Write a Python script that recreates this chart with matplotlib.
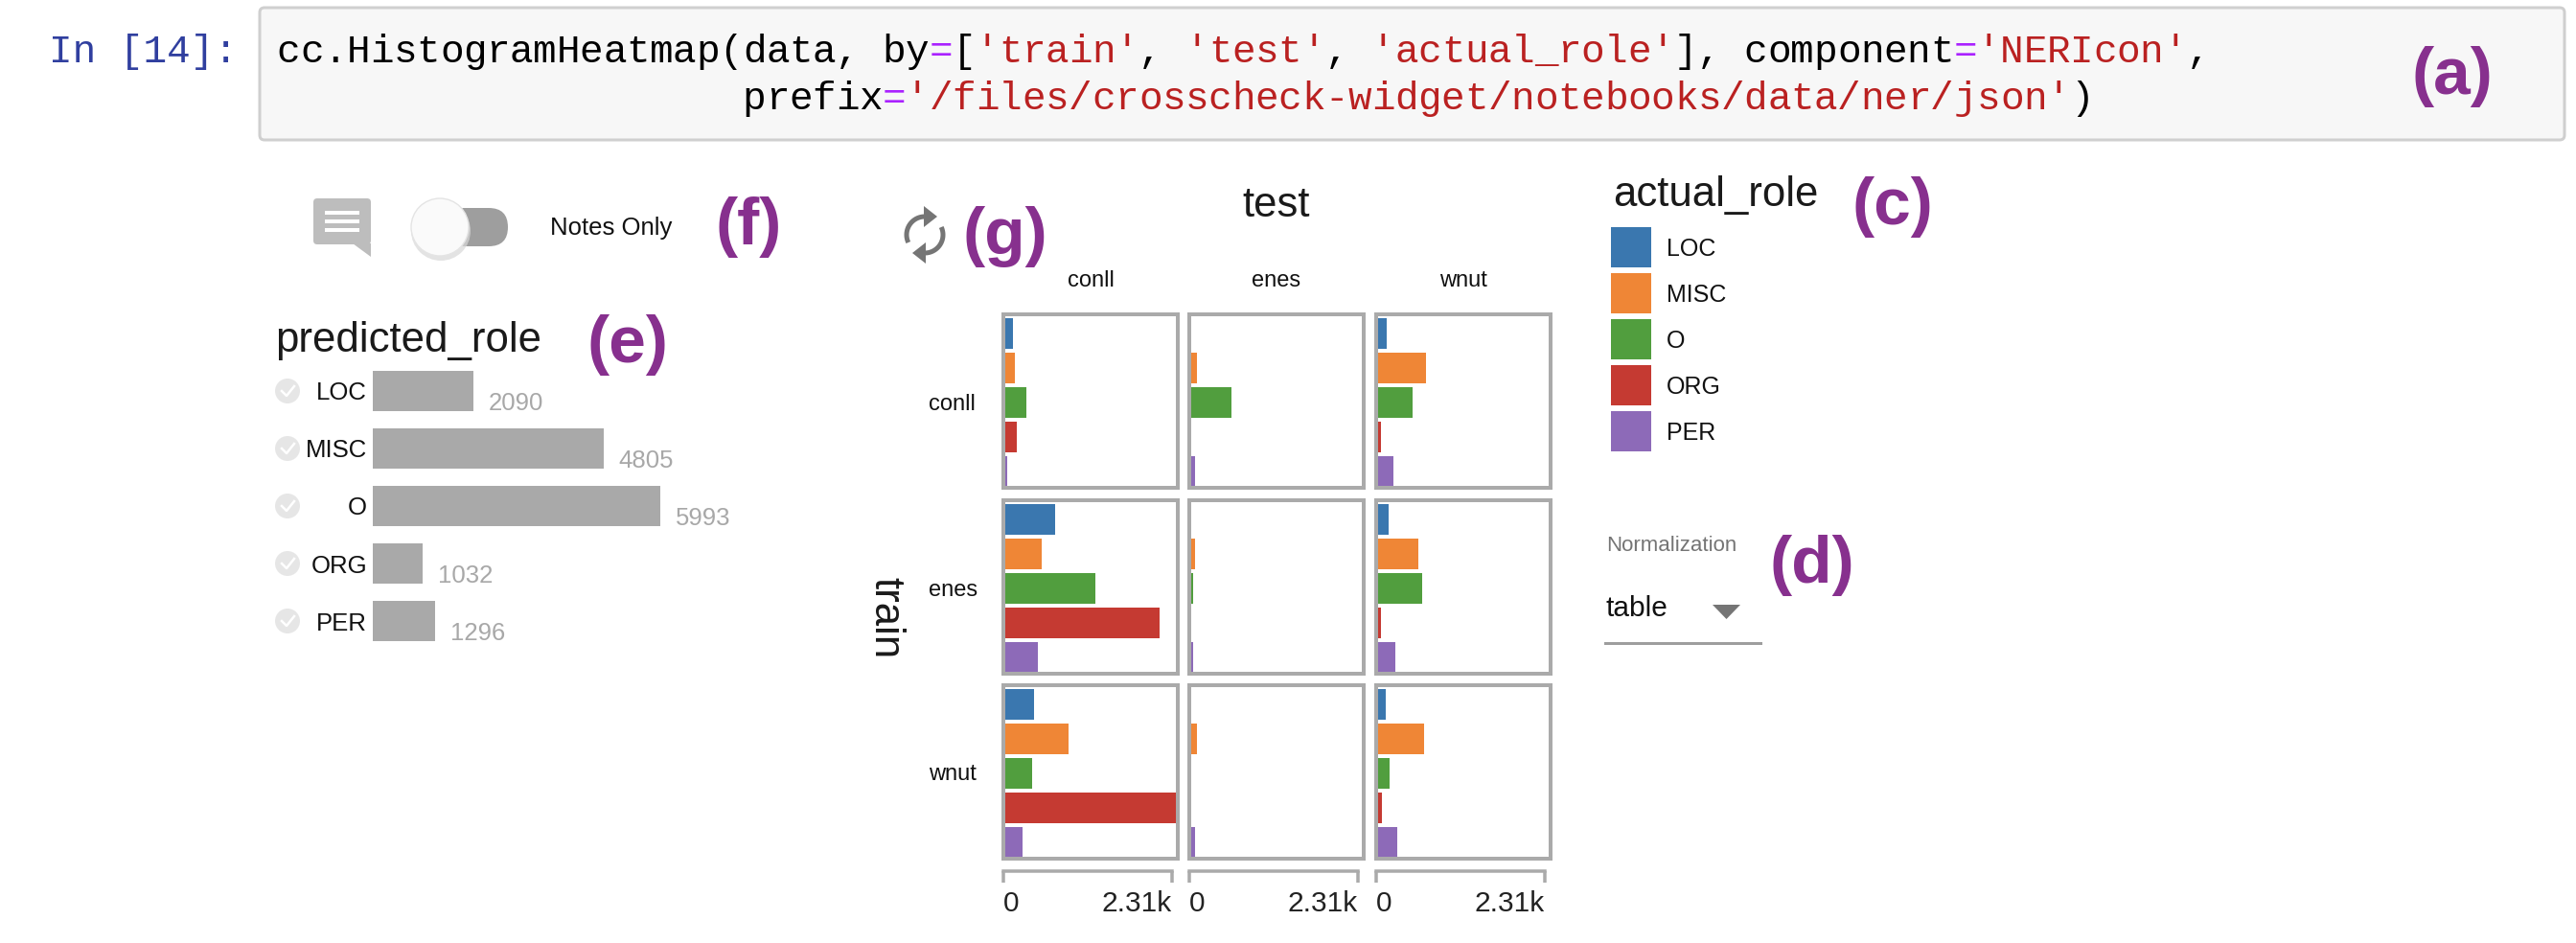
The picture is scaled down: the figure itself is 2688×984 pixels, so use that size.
import numpy as np
import matplotlib
matplotlib.use("Agg")
from matplotlib import pyplot as plt
from matplotlib.patches import FancyBboxPatch, Rectangle, Circle, Polygon

W, H = 2688, 984

# predicted_role summary bars
pred_roles = ["LOC", "MISC", "O", "ORG", "PER"]
pred_counts = [2090, 4805, 5993, 1032, 1296]

# histogram heatmap, rows = train, cols = test, bars = actual_role
train_sets = ["conll", "enes", "wnut"]
test_sets = ["conll", "enes", "wnut"]
actual_roles = ["LOC", "MISC", "O", "ORG", "PER"]
role_colors = ["#3a77af", "#ef8636", "#519e3e", "#c53a32", "#8d6ab8"]
counts = {
    ("conll", "conll"): [106, 132, 285, 159, 25],
    ("conll", "enes"): [0, 79, 549, 0, 53],
    ("conll", "wnut"): [126, 649, 463, 46, 205],
    ("enes", "conll"): [675, 496, 1218, 2078, 443],
    ("enes", "enes"): [0, 53, 26, 0, 26],
    ("enes", "wnut"): [152, 543, 596, 46, 232],
    ("wnut", "conll"): [388, 853, 363, 2310, 235],
    ("wnut", "enes"): [0, 77, 0, 0, 51],
    ("wnut", "wnut"): [102, 620, 153, 51, 256],
}
x_max = 2310
x_tick_labels = ["0", "2.31k"]

norm_label = "Normalization"
norm_value = "table"

PURPLE = "#87308e"
SANS = "Liberation Sans"
MONO = "Liberation Mono"


def box(x0, y0, x1, y1):
    return [x0 / W, 1 - y1 / H, (x1 - x0) / W, (y1 - y0) / H]


def pt(px):
    return px * 0.72


fig = plt.figure(figsize=(W / 100, H / 100), dpi=100)
ax0 = fig.add_axes([0, 0, 1, 1])
ax0.set_xlim(0, W)
ax0.set_ylim(H, 0)
ax0.axis("off")


def txt(x, y, s, size, color="#222222", ha="left", va="baseline", **kw):
    kw.setdefault("family", SANS)
    ax0.text(x, y, s, fontsize=size, color=color, ha=ha, va=va, **kw)


def tag(x, y, s):
    txt(x, y, s, 50, PURPLE, fontweight="bold")


# ---- code cell ----
ax0.add_patch(FancyBboxPatch((271, 8), 2405, 138, boxstyle="round,pad=0,rounding_size=5",
                             fc="#f7f7f7", ec="#cfcfcf", lw=pt(3)))
cw = 24.3
txt(51, 65, "In [14]:", 29.5, "#303f9f", family=MONO)
line1 = [("cc.HistogramHeatmap(data, by", "k"), ("=", "#aa22ff"), ("[", "k"),
         ("'train'", "#ba2121"), (", ", "k"), ("'test'", "#ba2121"), (", ", "k"),
         ("'actual_role'", "#ba2121"), ("], component", "k"), ("=", "#aa22ff"),
         ("'NERIcon'", "#ba2121"), (",", "k")]
line2 = [(" " * 20 + "prefix", "k"), ("=", "#aa22ff"),
         ("'/files/crosscheck-widget/notebooks/data/ner/json'", "#ba2121"), (")", "k")]
for base, toks in [(65, line1), (114, line2)]:
    i = 0
    for s, c in toks:
        for ch in s:
            if ch != " ":
                txt(289 + i * cw + cw / 2, base, ch, 29.5, c, ha="center", family=MONO)
            i += 1
tag(2516, 98, "(a)")

# ---- notes toggle (f) ----
ax0.add_patch(FancyBboxPatch((327, 207), 60, 48, boxstyle="round,pad=0,rounding_size=4",
                             fc="#bdbdbd", ec="none"))
ax0.add_patch(Polygon([(368, 254), (387, 254), (387, 268)], closed=True, fc="#bdbdbd", ec="none"))
for yy in (222, 231, 240):
    ax0.plot([339, 375], [yy, yy], color="white", lw=pt(4), solid_capstyle="butt")
ax0.add_patch(FancyBboxPatch((445, 217), 85, 40, boxstyle="round,pad=0,rounding_size=20",
                             fc="#9e9e9e", ec="none"))
ax0.add_patch(Circle((460, 241), 31, fc="#d8d8d8", ec="none", alpha=0.7))
ax0.add_patch(Circle((459, 237), 30, fc="#fafafa", ec="#e4e4e4", lw=1))
txt(574, 245, "Notes Only", 18.5, "#111111")
tag(746, 255, "(f)")

# ---- predicted_role (e) ----
txt(287, 367, "predicted_role", 31.5, "#1a1a1a")
tag(612, 378, "(e)")
axp = fig.add_axes(box(389, 378, 689, 678))
ypos = np.arange(len(pred_roles))
axp.barh(ypos, pred_counts, height=0.7, color="#a9a9a9")
axp.set_xlim(0, max(pred_counts))
axp.set_ylim(len(pred_roles) - 0.5, -0.5)
axp.set_yticks(ypos)
axp.set_yticklabels(pred_roles, fontsize=18.5, family=SANS, color="#111111")
axp.tick_params(axis="y", length=0, pad=pt(6))
axp.set_xticks([])
for sp in axp.spines.values():
    sp.set_visible(False)
axp.patch.set_alpha(0)
for i, v in enumerate(pred_counts):
    axp.annotate(str(v), (v, i), xytext=(pt(16), -pt(20)), textcoords="offset points",
                 fontsize=18.5, family=SANS, color="#a8a8a8", va="baseline", ha="left",
                 annotation_clip=False)
for i in range(len(pred_roles)):
    cy = 408 + 60 * i
    ax0.add_patch(Circle((300, cy), 13, fc="#e6e6e6", ec="none"))
    ax0.plot([294, 299, 307], [cy, cy + 5, cy - 5], color="white", lw=pt(2.5))

# ---- heatmap (b), (g) ----
cx, cy, r = 965, 245, 19
t1 = np.radians(np.linspace(90, 205, 30))
t2 = np.radians(np.linspace(270, 385, 30))
for t in (t1, t2):
    ax0.plot(cx + r * np.cos(t), cy - r * np.sin(t), color="#757575", lw=pt(5), solid_capstyle="butt")
ax0.add_patch(Polygon([(cx - 1, cy - r - 11), (cx - 1, cy - r + 11), (cx + 13, cy - r)],
                      closed=True, fc="#757575", ec="none"))
ax0.add_patch(Polygon([(cx + 1, cy + r - 11), (cx + 1, cy + r + 11), (cx - 13, cy + r)],
                      closed=True, fc="#757575", ec="none"))
tag(1005, 265, "(g)")
txt(1332, 226, "test", 31.5, "#1a1a1a", ha="center")
txt(924, 645, "train", 31.5, "#1a1a1a", ha="center", va="center", rotation=-90)

col_x = [1045, 1239, 1434]
row_y = [326, 520, 713]
pw, ph = 186, 185
for j, test in enumerate(test_sets):
    txt(col_x[j] + pw / 2, 299, test, 17, "#111111", ha="center")
for i, train in enumerate(train_sets):
    txt(969, row_y[i] + ph / 2 + 9, train, 17, "#111111")
    for j, test in enumerate(test_sets):
        ax = fig.add_axes(box(col_x[j] + 2, row_y[i] + 2, col_x[j] + pw - 2, row_y[i] + ph - 2))
        vals = counts[(train, test)]
        ax.barh(np.arange(len(actual_roles)), vals, height=0.89, color=role_colors)
        ax.set_xlim(-22, x_max + 20)
        ax.set_ylim(4.47, -0.56)
        ax.set_xticks([])
        ax.set_yticks([])
        for sp in ax.spines.values():
            sp.set_color("#aaaaaa")
            sp.set_linewidth(pt(4))
tag(1519, 395, "(b)")

# x axes under each column
for j in range(len(test_sets)):
    axx = fig.add_axes(box(col_x[j] + 2, 907, col_x[j] + pw - 8, 909))
    axx.set_xlim(0, x_max)
    axx.set_yticks([])
    axx.set_xticks([0, x_max])
    axx.set_xticklabels(x_tick_labels, fontsize=21.5, family=SANS, color="#222222")
    labs = axx.get_xticklabels()
    labs[0].set_ha("left")
    labs[1].set_ha("right")
    axx.tick_params(axis="x", length=pt(12), width=pt(3.5), color="#aaaaaa", pad=pt(8))
    for name, sp in axx.spines.items():
        sp.set_visible(name == "bottom")
    axx.spines["bottom"].set_color("#aaaaaa")
    axx.spines["bottom"].set_linewidth(pt(3.5))
    axx.spines["bottom"].set_capstyle("projecting")
    axx.patch.set_alpha(0)

# ---- legend (c) ----
txt(1683, 215, "actual_role", 31.5, "#1a1a1a")
tag(1932, 234, "(c)")
for k, (role, col) in enumerate(zip(actual_roles, role_colors)):
    y0 = 237 + 48 * k
    ax0.add_patch(Rectangle((1681, y0), 42, 42, fc=col, ec="none"))
    txt(1739, y0 + 30, role, 18, "#111111")

# ---- normalization dropdown (d) ----
txt(1676, 575, norm_label, 16, "#757575")
tag(1847, 608, "(d)")
txt(1676, 643, norm_value, 21.5, "#111111")
ax0.add_patch(Polygon([(1787, 631), (1816, 631), (1801.5, 646)], closed=True, fc="#757575", ec="none"))
ax0.plot([1675, 1837], [671, 671], color="#9e9e9e", lw=pt(3))

fig.savefig("out.png", dpi=100, facecolor="white")
